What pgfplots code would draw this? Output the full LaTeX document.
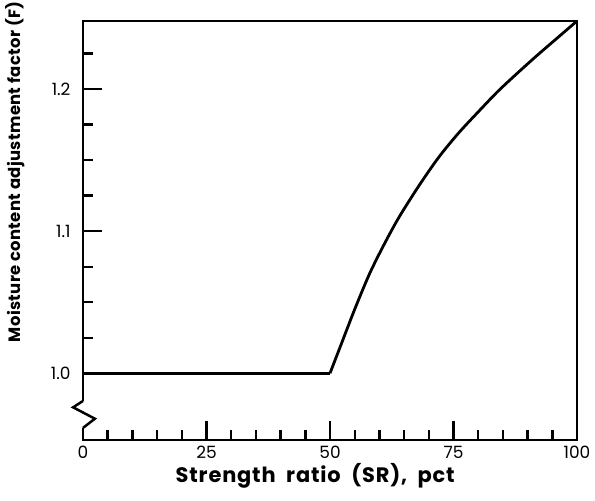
\documentclass[border=0pt]{standalone}
\usepackage{fontspec}
\setmainfont{Poppins}
\usepackage{pgfplots}
\pgfplotsset{compat=1.18}
\begin{document}
\begin{tikzpicture}
\begin{axis}[
  scale only axis,
  width=494bp, height=419bp,
  xmin=0, xmax=100, ymin=0.953, ymax=1.248,
  axis line style={line width=2.8bp},
  xtick={0,25,50,75,100},
  minor xtick={5,10,15,20,30,35,40,45,55,60,65,70,80,85,90,95},
  ytick={1.0,1.1,1.2},
  minor ytick={1.025,1.05,1.075,1.125,1.15,1.175,1.225},
  yticklabels={1.0,1.1,1.2},
  xtick pos=bottom, ytick pos=left,
  tick align=inside,
  major tick length=19bp, minor tick length=10bp,
  every tick/.style={line width=2.4bp, black},
  tick label style={font=\fontsize{17}{20}\selectfont},
  /pgf/number format/assume math mode=true,
  xticklabel style={yshift=-3bp},
  yticklabel style={xshift=-9bp},
  xlabel={\addfontfeatures{LetterSpace=4}Strength\ \ ratio\ \ (SR),\ \ pct},
  xlabel style={font=\fontsize{21}{24}\selectfont\bfseries, at={(axis description cs:0.47,0)}, anchor=center, yshift=-36bp},
  ylabel={\addfontfeatures{LetterSpace=2}Moisture content adjustment factor (F)},
  ylabel style={font=\fontsize{16.5}{20}\selectfont\bfseries, at={(axis description cs:-0.138,0.64)}, anchor=center},
  clip=false,
]
\addplot[black, line width=2.8bp, smooth, tension=0.5] coordinates {
  (50,1.0) (52,1.018) (55,1.045) (58,1.070) (61,1.091) (64,1.110) (68,1.132)
  (72,1.152) (76,1.169) (80,1.184) (84,1.1985) (88,1.2115) (92,1.224) (96,1.236) (100,1.248)
};
\addplot[black, line width=2.8bp] coordinates {(0,1.0) (50,1.0)};
\draw[white, line width=5bp] (axis cs:0,0.9615) -- (axis cs:0,0.9805);
\draw[black, line width=2.5bp, line join=miter] (axis cs:0,0.9615) -- (axis cs:2.4,0.968) -- (axis cs:-2.0,0.976) -- (axis cs:0,0.9805);
\coordinate (SW) at (rel axis cs:0,0);
\end{axis}
\pgfresetboundingbox
\path ([shift={(-83bp,-61bp)}]SW) rectangle ([shift={(512bp,440bp)}]SW);
\end{tikzpicture}
\end{document}
